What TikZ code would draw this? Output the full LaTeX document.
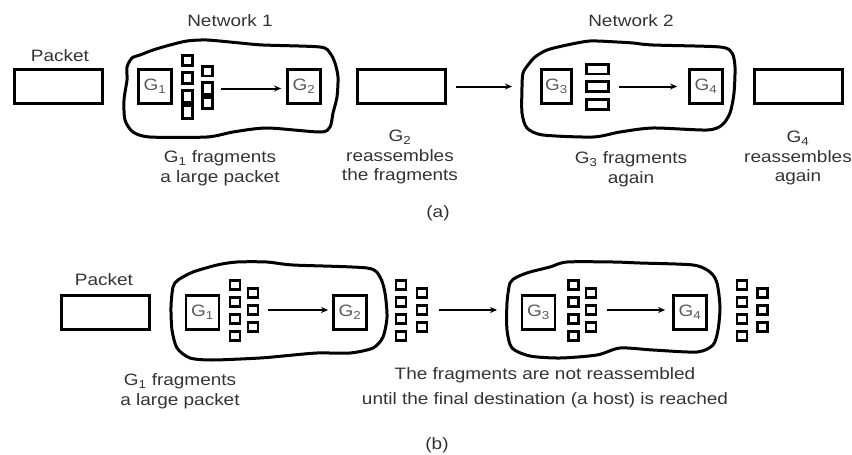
\documentclass[tikz,border=0pt]{standalone}
\usepackage{fontspec}
\setmainfont{Liberation Sans}[FakeStretch=1.15]
\usetikzlibrary{arrows.meta}
\begin{document}
\begin{tikzpicture}[x=1pt,y=-1pt,
  every node/.style={font=\fontsize{16.5}{19.5}\selectfont, text=black!80},
  box/.style={draw=black, line width=3pt, minimum width=88pt, minimum height=34pt, inner sep=0pt},
  gw/.style={draw=black, line width=2.8pt, minimum width=33pt, minimum height=34pt, inner sep=0pt, text=black!65},
  frag/.style={draw=black, line width=2.5pt, minimum width=10pt, minimum height=9pt, inner sep=0pt},
  cloudline/.style={draw=black, line width=3pt},
  arr/.style={line width=2pt, -{Stealth[length=7pt,width=6pt]}},
  captxt/.style={align=center, inner sep=0pt},
]
\useasboundingbox (0,0) rectangle (852,455);

% ---------------- (a) ----------------
\node (net1) at (230,21) {Network 1};
\node (net2) at (631,21) {Network 2};
\node (pktA) at (60,56) {Packet};

\draw[cloudline] plot[smooth cycle, tension=0.45] coordinates {(127,67) (132,58) (140,55) (153,50) (170,45) (187,41) (207,40) (240,43) (263,45) (320,47) (330,53) (335,63) (338,77) (337,97) (333,113) (330,127) (320,132) (267,128) (233,132) (207,137) (150,137) (133,132) (125,120) (124,100) (127,80)};
\draw[cloudline] plot[smooth cycle, tension=0.45] coordinates {(528,65) (535,57) (547,50) (567,45) (590,41) (617,42) (633,43) (653,45) (720,47) (732,53) (735,67) (734,93) (730,113) (722,125) (707,130) (653,128) (620,132) (593,137) (543,135) (527,128) (522,113) (522,87) (523,73)};
\coordinate (c2aW) at (521,86.5);

\node[box] (boxA1) at (58.5,86.5) {};
\node[gw] (G1a) at (155,86.5) {G\textsubscript{1}};
\node[frag, minimum height=10pt] (fa1) at (187.5,60.5) {};
\node[frag, minimum height=11pt] (fa2) at (187.5,78) {};
\node[frag, minimum height=12pt] (fa3) at (187.5,96.5) {};
\node[frag, minimum height=13pt] (fa4) at (187.5,112) {};
\node[frag, minimum height=9.5pt] (fa5) at (207.5,71) {};
\node[frag, minimum height=12pt] (fa6) at (207.5,88.5) {};
\node[frag, minimum height=11pt] (fa7) at (207.5,103) {};
\node[gw] (G2a) at (304,86.5) {G\textsubscript{2}};
\node[box] (boxA2) at (401,86.5) {};
\node[gw, minimum width=30pt] (G3a) at (556.5,86.5) {G\textsubscript{3}};
\node[frag, minimum width=22pt, minimum height=9.5pt] (fa8) at (597.5,69) {};
\node[frag, minimum width=22pt, minimum height=10pt] (fa9) at (597.5,86.5) {};
\node[frag, minimum width=22pt, minimum height=10pt] (fa10) at (597.5,104.5) {};
\node[gw] (G4a) at (706,86.5) {G\textsubscript{4}};
\node[box] (boxA3) at (798.5,86.5) {};

\draw[arr, shorten <=7pt, shorten >=5pt] (fa6.east) -- (fa6.east -| G2a.west);
\draw[arr, shorten <=9pt, shorten >=9pt] (boxA2.east) -- (c2aW);
\draw[arr, shorten <=9pt, shorten >=11pt] (fa9.east) -- (fa9.east -| G4a.west);

\node[captxt] (capA1) at (220,168) {G\textsubscript{1} fragments\\a large packet};
\node[captxt] (capA2) at (400,157) {G\textsubscript{2}\\reassembles\\the fragments};
\node[captxt] (capA3) at (631,169) {G\textsubscript{3} fragments\\again};
\node[captxt] (capA4) at (798,158) {G\textsubscript{4}\\reassembles\\again};
\node (labA) at (438,213) {(a)};

% ---------------- (b) ----------------
\node (pktB) at (104,280) {Packet};

\draw[cloudline] plot[smooth cycle, tension=0.45] coordinates {(173,287) (178,280) (193,272) (217,265) (237,262) (267,262) (293,265) (367,268) (380,277) (385,293) (387,317) (383,337) (373,348) (350,353) (317,353) (283,356) (260,358) (213,360) (190,358) (177,348) (172,330) (171,307)};
\draw[cloudline] plot[smooth cycle, tension=0.45] coordinates {(510,283) (517,277) (530,272) (550,267) (567,262) (613,262) (640,263) (693,265) (710,272) (717,283) (720,307) (718,330) (713,345) (697,352) (653,350) (620,348) (597,355) (560,358) (530,356) (512,348) (507,330) (507,303)};
\coordinate (c2bW) at (506,310);

\node[box] (boxB1) at (105.5,312.5) {};
\node[gw] (G1b) at (202.5,312.5) {G\textsubscript{1}};
\node[gw] (G2b) at (350,312.5) {G\textsubscript{2}};
\node[gw] (G3b) at (538.5,312.5) {G\textsubscript{3}};
\node[gw] (G4b) at (690,312.5) {G\textsubscript{4}};

\foreach \n/\xa/\xb in {p/235/253, q/401/422, r/573.5/591, s/742/762.5}{
  \node[frag] (\n1) at (\xa,285) {};
  \node[frag] (\n2) at (\xa,302) {};
  \node[frag] (\n3) at (\xa,319) {};
  \node[frag] (\n4) at (\xa,336) {};
  \node[frag] (\n5) at (\xb,293) {};
  \node[frag] (\n6) at (\xb,310) {};
  \node[frag] (\n7) at (\xb,327) {};
}

\draw[arr, shorten <=9pt, shorten >=4pt] (p6.east) -- (p6.east -| G2b.west);
\draw[arr, shorten <=11pt, shorten >=9pt] (q6.east) -- (c2bW);
\draw[arr, shorten <=10pt, shorten >=7pt] (r6.east) -- (r6.east -| G4b.west);

\node[captxt] (capB1) at (180,391) {G\textsubscript{1} fragments\\a large packet};
\node[captxt, font=\fontsize{16.5}{25}\selectfont] (capB2) at (545,388) {The fragments are not reassembled\\until the final destination (a host) is reached};
\node (labB) at (437,445) {(b)};
\end{tikzpicture}
\end{document}
